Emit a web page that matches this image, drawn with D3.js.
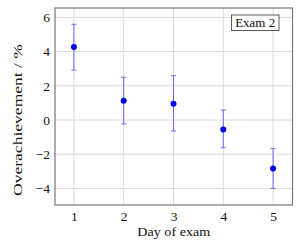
<!DOCTYPE html>
<html><head><meta charset="utf-8">
<script src="https://cdn.jsdelivr.net/npm/d3@7"></script>
<style>body{margin:0;background:#fff}svg{display:block}</style>
</head><body>
<script>
const days = [1, 2, 3, 4, 5];
const means = [4.27, 1.12, 0.95, -0.55, -2.83];
const upper = [5.6, 2.5, 2.59, 0.58, -1.66];
const lower = [2.92, -0.23, -0.64, -1.62, -4.0];
const xTicks = [1, 2, 3, 4, 5];
const yTicks = [-4, -2, 0, 2, 4, 6];
const legendLabel = "Exam 2";
const xLabel = "Day of exam";
const yLabel = "Overachievement / %";

const W = 300, H = 249;
const m = {left: 55, top: 8, right: 7.5, bottom: 44};
const font = "'Liberation Serif', 'DejaVu Serif', serif";
const fs = 13.5;
const svg = d3.select("body").append("svg").attr("width", W).attr("height", H);
const x = d3.scaleLinear().domain([0.62, 5.39]).range([m.left, W - m.right]);
const y = d3.scaleLinear().domain([-4.97, 6.55]).range([H - m.bottom, m.top]);

// grid
svg.append("g").selectAll("line").data(xTicks).join("line")
  .attr("x1", d => x(d)).attr("x2", d => x(d)).attr("y1", m.top).attr("y2", H - m.bottom)
  .attr("stroke", "#dcdcdc").attr("stroke-width", 1);
svg.append("g").selectAll("line").data(yTicks).join("line")
  .attr("y1", d => y(d)).attr("y2", d => y(d)).attr("x1", m.left).attr("x2", W - m.right)
  .attr("stroke", "#dcdcdc").attr("stroke-width", 1);

// axes
const xa = svg.append("g").attr("transform", `translate(0,${H - m.bottom})`)
  .call(d3.axisBottom(x).tickValues(xTicks).tickSize(0).tickPadding(6).tickFormat(d3.format("d")));
const ya = svg.append("g").attr("transform", `translate(${m.left},0)`)
  .call(d3.axisLeft(y).tickValues(yTicks).tickSize(0).tickPadding(5).tickFormat(d => d < 0 ? "\u2212" + Math.abs(d) : d));
[xa, ya].forEach(a => {
  a.select(".domain").remove();
  a.selectAll("text").attr("font-family", font).attr("font-size", fs).attr("fill", "#111");
});

// frame
svg.append("rect").attr("x", m.left).attr("y", m.top)
  .attr("width", W - m.right - m.left).attr("height", H - m.bottom - m.top)
  .attr("fill", "none").attr("stroke", "#777").attr("stroke-width", 1.2);

// error bars
const idx = d3.range(days.length);
const eb = svg.append("g").attr("stroke", "#6b6bff").attr("stroke-width", 1);
eb.selectAll("line.v").data(idx).join("line").attr("class", "v")
  .attr("x1", i => x(days[i])).attr("x2", i => x(days[i]))
  .attr("y1", i => y(upper[i])).attr("y2", i => y(lower[i]));
eb.selectAll("line.t").data(idx).join("line").attr("class", "t")
  .attr("x1", i => x(days[i]) - 2.5).attr("x2", i => x(days[i]) + 2.5)
  .attr("y1", i => y(upper[i])).attr("y2", i => y(upper[i]));
eb.selectAll("line.b").data(idx).join("line").attr("class", "b")
  .attr("x1", i => x(days[i]) - 2.5).attr("x2", i => x(days[i]) + 2.5)
  .attr("y1", i => y(lower[i])).attr("y2", i => y(lower[i]));

// points
svg.append("g").selectAll("circle").data(idx).join("circle")
  .attr("cx", i => x(days[i])).attr("cy", i => y(means[i])).attr("r", 3)
  .attr("fill", "#0000ee");

// legend
const lg = svg.append("g");
lg.append("rect").attr("x", 231.5).attr("y", 15).attr("width", 47.5).attr("height", 15.5)
  .attr("fill", "#fff").attr("stroke", "#333").attr("stroke-width", 0.8);
lg.append("text").attr("x", 255.2).attr("y", 27.3).attr("text-anchor", "middle")
  .attr("font-family", font).attr("font-size", fs).attr("fill", "#111")
  .attr("textLength", 40).attr("lengthAdjust", "spacingAndGlyphs").text(legendLabel);

// labels
svg.append("text").attr("x", (m.left + W - m.right) / 2).attr("y", 236).attr("text-anchor", "middle")
  .attr("font-family", font).attr("font-size", fs).attr("fill", "#111")
  .attr("textLength", 73).attr("lengthAdjust", "spacingAndGlyphs").text(xLabel);
svg.append("text").attr("transform", `translate(22,${120}) rotate(-90)`).attr("text-anchor", "middle")
  .attr("font-family", font).attr("font-size", fs).attr("fill", "#111")
  .attr("textLength", 152).attr("lengthAdjust", "spacingAndGlyphs").text(yLabel);
</script>
</body></html>
